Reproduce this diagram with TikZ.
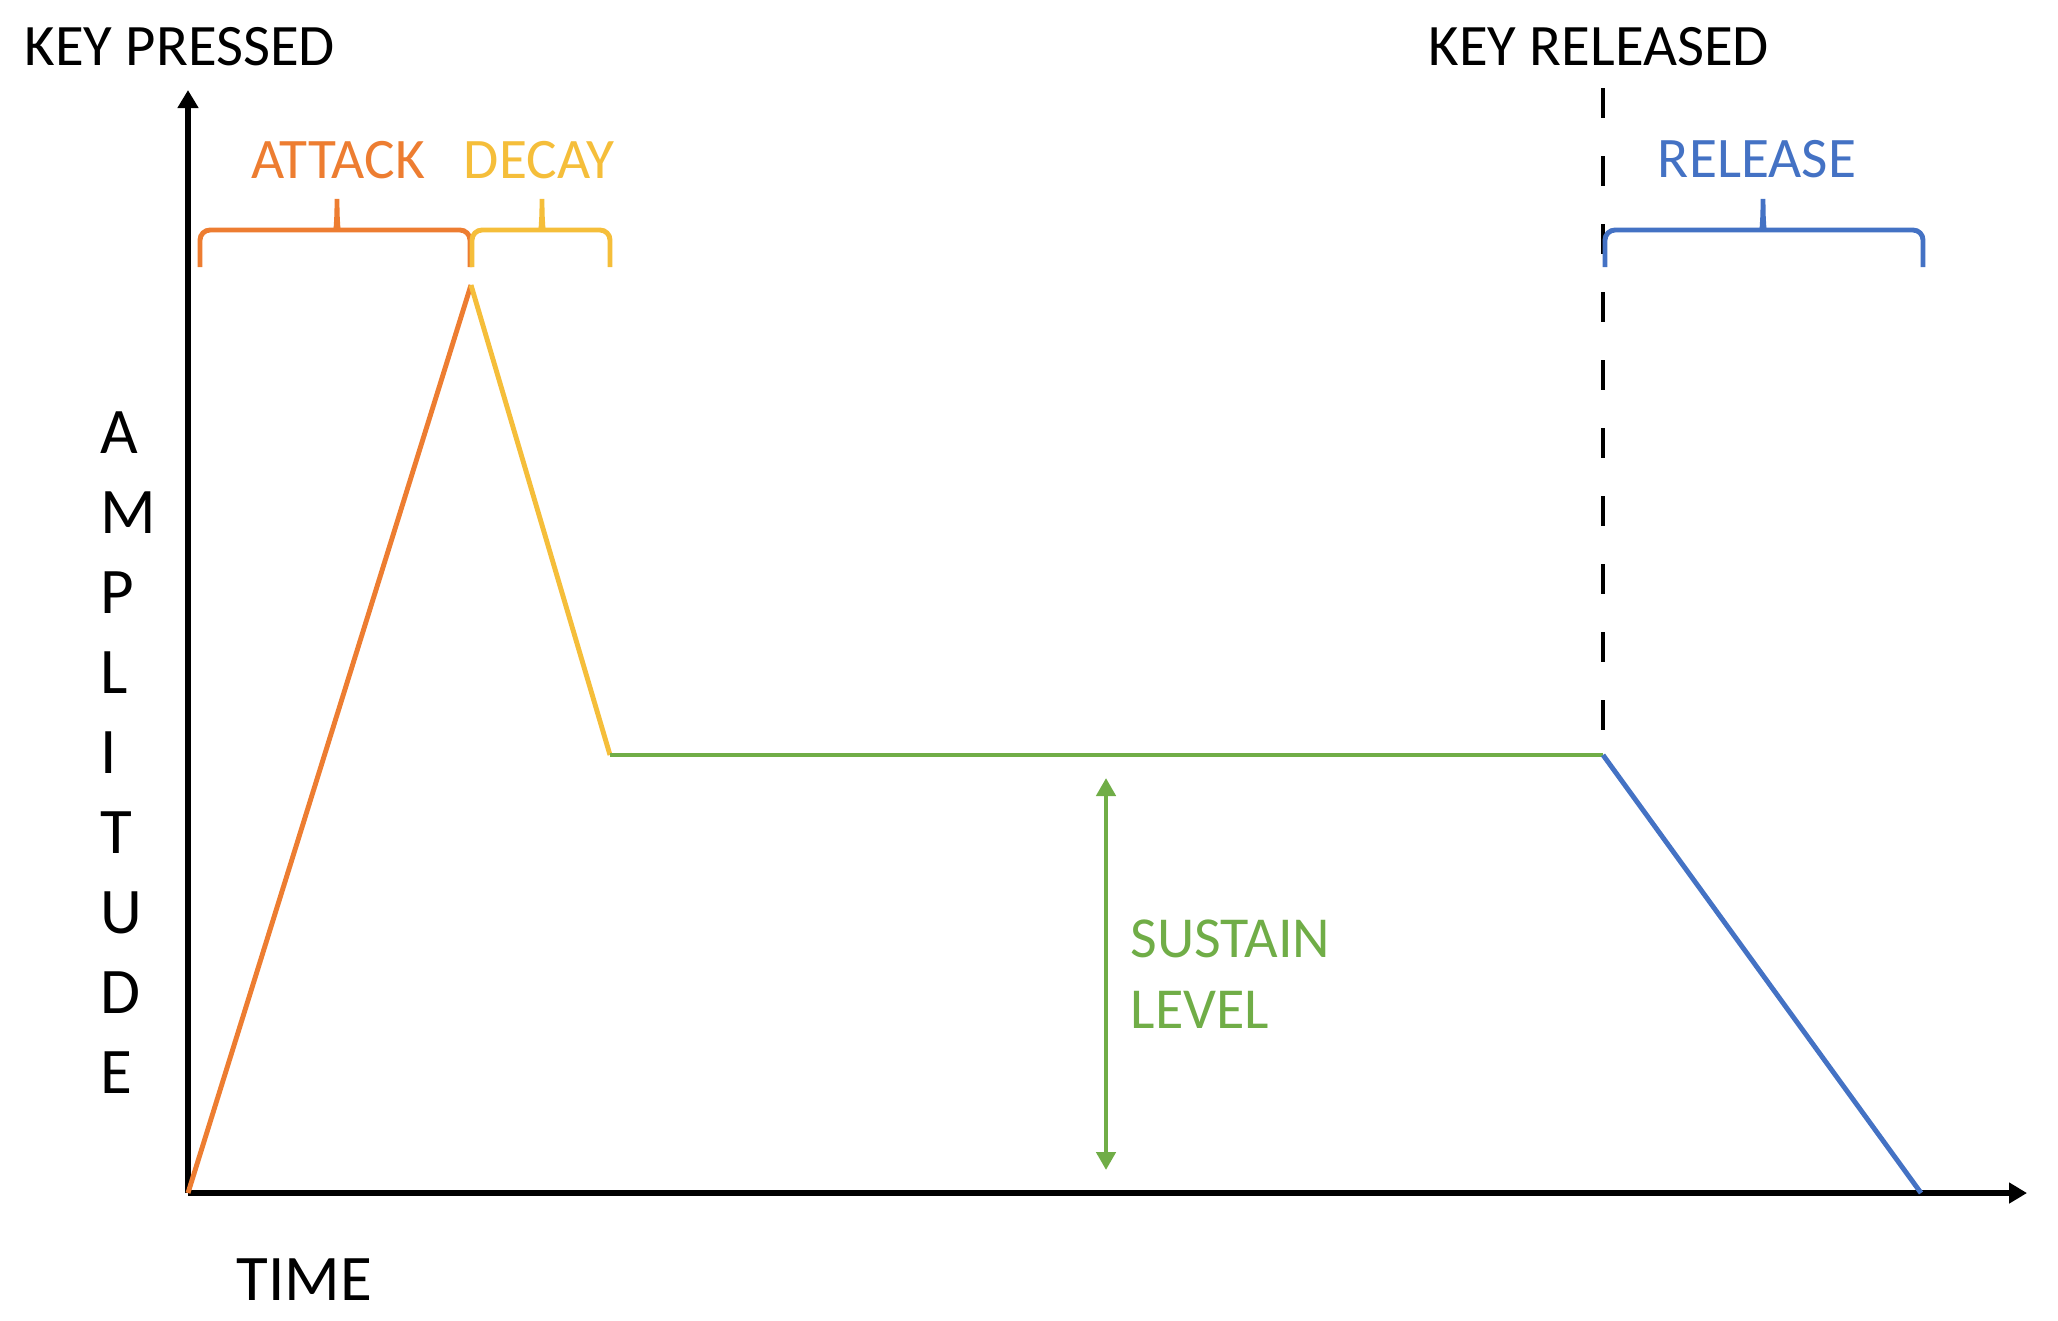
\documentclass[tikz,border=0pt]{standalone}
\usepackage{fontspec}
\setmainfont{Carlito}
\usepackage{xcolor}
\usetikzlibrary{arrows.meta,positioning}
\definecolor{attackorange}{RGB}{237,125,49}
\definecolor{decayyellow}{RGB}{245,190,58}
\definecolor{sustaingreen}{RGB}{112,173,71}
\definecolor{releaseblue}{RGB}{68,114,196}

\tikzset{
  axisline/.style={line width=1.7pt, -{Triangle[length=0.18cm,width=0.2cm]}},
  envline/.style={line width=1.4pt},
  keyline/.style={line width=1.2pt, dash pattern=on 0.3cm off 0.38cm},
  levelarrow/.style={line width=1.4pt, sustaingreen,
    {Triangle[length=0.18cm,width=0.19cm]}-{Triangle[length=0.18cm,width=0.19cm]}},
  bracestroke/.style={line width=1.4pt, rounded corners=0.1cm},
  keytext/.style={anchor=base west, inner sep=0pt, font=\fontsize{16.7}{20}\selectfont},
  phasetext/.style={anchor=base, inner sep=0pt, font=\fontsize{16.3}{20}\selectfont},
  leveltext/.style={anchor=base west, inner sep=0pt, sustaingreen, font=\fontsize{16.5}{20}\selectfont},
  axistext/.style={anchor=base west, inner sep=0pt, font=\fontsize{18.5}{22}\selectfont}
}

% curly brace over a phase: colour, left x, tip x, right x
\newcommand{\envbrace}[4]{%
  \draw[bracestroke, #1] (#2,267) -- (#2,230) -- ({#3-10},230)
    .. controls ({#3-2},230) and (#3,226) .. (#3,193)
    .. controls (#3,226) and ({#3+2},230) .. ({#3+10},230)
    -- (#4,230) -- (#4,267);}

\begin{document}
\begin{tikzpicture}[x=0.01cm, y=-0.01cm]
\useasboundingbox (0,0) rectangle (2058,1320);

% envelope points
\coordinate (origin) at (188,1193);
\coordinate (ytop) at (188,90);
\coordinate (xend) at (2027,1193);
\coordinate (peak) at (471,285);
\coordinate (decayend) at (610,755);
\coordinate (relkey) at (1603,755);
\coordinate (silence) at (1921,1193);
\coordinate (dashtop) at (1603,88);
\coordinate (sustop) at (1106,778);
\coordinate (susbot) at (1106,1170);

% axes
\draw[axisline] (origin) -- (ytop);
\draw[axisline] (origin) -- (xend);

% key released marker
\draw[keyline] (dashtop) -- (relkey);

% ADSR envelope
\draw[envline, attackorange] (origin) -- (peak);
\draw[envline, decayyellow] (peak) -- (decayend);
\draw[envline, sustaingreen] (decayend) -- (relkey);
\draw[envline, releaseblue] (relkey) -- (silence);

% sustain level
\draw[levelarrow] (susbot) -- (sustop);
\node[leveltext] (sustainlbl) at (1130,957) {SUSTAIN};
\node[leveltext] (levellbl) at (1130,1028) {LEVEL};

% phase braces
\envbrace{attackorange}{200}{337}{470}
\envbrace{decayyellow}{472}{542}{610}
\envbrace{releaseblue}{1605}{1763}{1923}
\node[phasetext, attackorange] (attacklbl) at (338,178) {ATTACK};
\node[phasetext, decayyellow] (decaylbl) at (539,178) {DECAY};
\node[phasetext, releaseblue] (releaselbl) at (1757,177) {RELEASE};

% labels
\node[keytext] (pressed) at (24,65) {KEY PRESSED};
\node[keytext] (released) at (1428,65) {KEY RELEASED};
\node[axistext] (timelbl) at (236,1300) {TIME};
\foreach \ch [count=\i from 0] in {A,M,P,L,I,T,U,D,E}
  \node[axistext] (amp\i) at (100,{453+80*\i}) {\ch};
\end{tikzpicture}
\end{document}
